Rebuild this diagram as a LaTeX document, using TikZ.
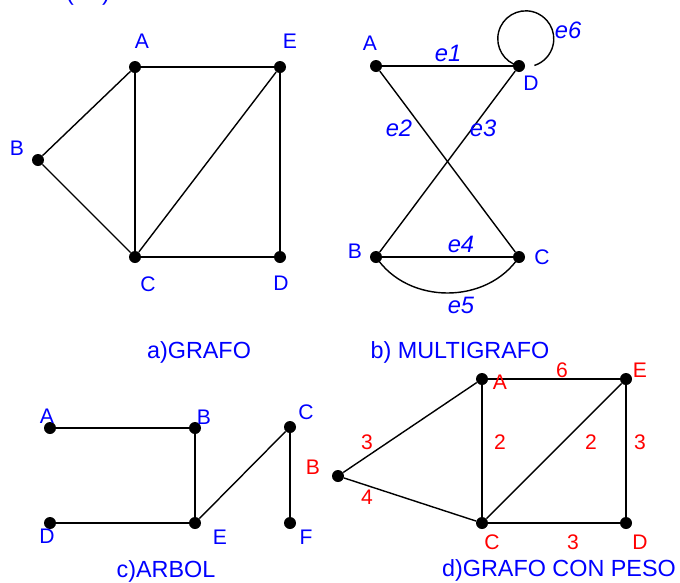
\documentclass[tikz,border=0pt]{standalone}
\usepackage{fontspec}
\setmainfont{Liberation Sans}

\begin{document}
\begin{tikzpicture}[x=0.02cm,y=-0.02cm]
    \definecolor{labelblue}{RGB}{0,0,255}
    \definecolor{weightred}{RGB}{255,0,0}
    \tikzset{
        vertex/.style={circle,fill=black,inner sep=0pt,minimum size=0.24cm},
        edge/.style={line width=0.8pt},
        lbl/.style={text=labelblue,inner sep=0pt,font=\fontsize{12}{14}\selectfont},
        elbl/.style={text=labelblue,inner sep=0pt,font=\fontsize{13.5}{15}\selectfont\itshape},
        wlbl/.style={text=weightred,inner sep=0pt,font=\fontsize{12}{14}\selectfont},
        caption/.style={text=labelblue,inner sep=0pt,font=\fontsize{13.3}{15}\selectfont}
    }
    \useasboundingbox (0,0) rectangle (680,582);
    \clip (0,0) rectangle (680,582);

    % cut-off title at the top
    \node[caption,anchor=base] (title) at (88,0) {(\hspace{16pt})};

    % a) grafo
    \foreach \n/\x/\y in {A/135/67,E/280/67,B/38/160,C/135/257,D/280/257}
        \node[vertex] (a\n) at (\x,\y) {};
    \foreach \u/\v in {A/E,A/B,A/C,B/C,C/E,E/D,C/D}
        \draw[edge] (a\u) -- (a\v);
    \foreach \n/\x/\y in {A/142/41,E/290/41,B/17/148,C/148/284,D/281/283}
        \node[lbl] (la\n) at (\x,\y) {\n};
    \node[caption] (capa) at (199,352) {a)GRAFO};

    % b) multigrafo
    \foreach \n/\x/\y in {A/376/66,D/519/66,B/376/257,C/519/257}
        \node[vertex] (b\n) at (\x,\y) {};
    \foreach \u/\v in {A/D,A/C,D/B,B/C}
        \draw[edge] (b\u) -- (b\v);
    \draw[edge] (bB.center) .. controls (408,305) and (487,305) .. (bC.center);
    \draw[edge] (bD.center) arc[start angle=104,end angle=432,radius=28];
    \foreach \n/\x/\y in {A/370/43,D/531/83,B/355/251,C/542/257}
        \node[lbl] (lb\n) at (\x,\y) {\n};
    \foreach \e/\x/\y in {1/448/53,2/399/128,3/483/128,4/461/244,5/461/305,6/568/30}
        \node[elbl] (le\e) at (\x,\y) {e\e};
    \node[caption] (capb) at (460,352) {b) MULTIGRAFO};

    % c) arbol
    \foreach \n/\x/\y in {A/50/428,B/195/428,C/290/427,D/50/523,E/195/523,F/290/523}
        \node[vertex] (c\n) at (\x,\y) {};
    \foreach \u/\v in {A/B,B/E,D/E,E/C,C/F}
        \draw[edge] (c\u) -- (c\v);
    \foreach \n/\x/\y in {A/47/416,B/204/417,C/306/412,D/47/536,E/220/537,F/306/537}
        \node[lbl] (lc\n) at (\x,\y) {\n};
    \node[caption] (capc) at (166,571) {c)ARBOL};

    % d) grafo con peso
    \foreach \n/\x/\y in {A/482/379,E/626/379,B/338/476,C/482/523,D/626/523}
        \node[vertex] (d\n) at (\x,\y) {};
    \foreach \u/\v in {A/E,A/B,A/C,B/C,C/E,E/D,C/D}
        \draw[edge] (d\u) -- (d\v);
    \foreach \n/\x/\y in {A/500/382,E/640/370,B/313/467,C/492/542,D/640/542}
        \node[wlbl] (ld\n) at (\x,\y) {\n};
    \foreach \w/\x/\y [count=\i] in {6/562/370,3/367/442,2/500/442,2/591/442,3/640/442,4/367/497,3/573/542}
        \node[wlbl] (w\i) at (\x,\y) {\w};
    \node[caption] (capd) at (559,570) {d)GRAFO CON PESO};
\end{tikzpicture}
\end{document}
